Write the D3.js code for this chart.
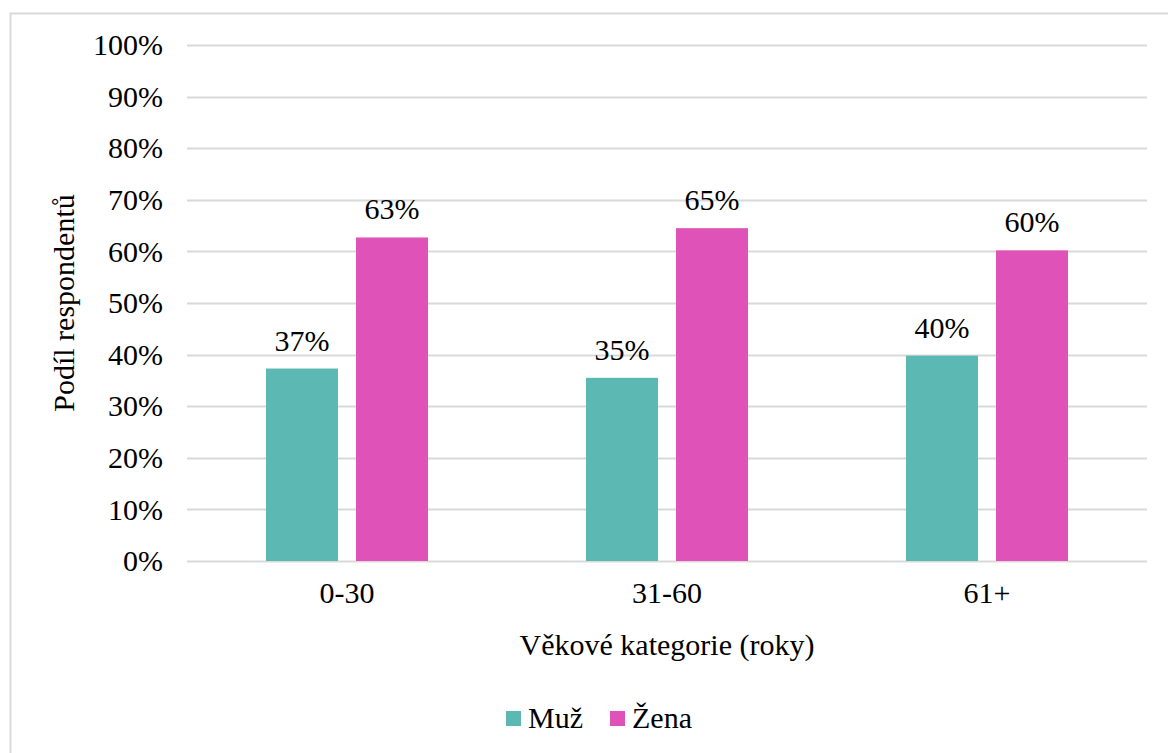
<!DOCTYPE html>
<html><head><meta charset="utf-8">
<script src="https://cdn.jsdelivr.net/npm/d3@7"></script>
<style>html,body{margin:0;padding:0;background:#fff;}svg{display:block;}</style>
</head><body>
<svg id="chart" width="1168" height="753"></svg>
<script>
const categories = ["0-30", "31-60", "61+"];
const seriesNames = ["Muž", "Žena"];
const muz = [37.3, 35.5, 39.8];
const zena = [62.7, 64.5, 60.2];
const muzLabels = ["37%", "35%", "40%"];
const zenaLabels = ["63%", "65%", "60%"];
const yTicks = [0,10,20,30,40,50,60,70,80,90,100];
const colors = ["#5cb8b2", "#df52b8"];
const fontNames = ["Liberation Serif", "Times New Roman"];

(function(){
const svg = d3.select("#chart");
const fs = 30;
const ff = fontNames.map(n => `"${n}"`).join(", ");

// frame
svg.append("rect").attr("x",10.5).attr("y",13.5).attr("width",1170).attr("height",760)
  .attr("fill","#fff").attr("stroke","#d9d9d9").attr("stroke-width",2);

const pL = 187, pR = 1147, pT = 45, pB = 561;
const x = d3.scaleBand().domain(categories).range([pL,pR]).paddingInner(0).paddingOuter(0);
const x1 = d3.scaleBand().domain(seriesNames).range([0, x.bandwidth()]).paddingInner(0.2).paddingOuter(0.878);
const y = d3.scaleLinear().domain([0,100]).range([pB, pT]);

// grid
svg.append("g").selectAll("line").data(yTicks).join("line")
  .attr("x1",pL).attr("x2",pR)
  .attr("y1",d=>Math.round(y(d))+0.5).attr("y2",d=>Math.round(y(d))+0.5)
  .attr("stroke","#d9d9d9").attr("stroke-width",2);

// y axis labels
const yAxis = d3.axisLeft(y).tickValues(yTicks).tickFormat(d=>d+"%").tickSize(0).tickPadding(24);
const ga = svg.append("g").attr("transform",`translate(${pL},0)`).call(yAxis);
ga.select(".domain").remove();
ga.attr("font-family",null).attr("font-size",null);
ga.selectAll("text").style("font-family",ff).style("font-size",fs+"px").attr("fill","#000").attr("dy","0.32em");

// x axis labels
const xAxis = d3.axisBottom(x).tickSize(0).tickPadding(21);
const gx = svg.append("g").attr("transform",`translate(0,${pB})`).call(xAxis);
gx.select(".domain").remove();
gx.attr("font-family",null).attr("font-size",null);
gx.selectAll("text").style("font-family",ff).style("font-size",fs+"px").attr("fill","#000");

const data = categories.map((c,i)=>({c, vals:[{s:"Muž",v:muz[i],l:muzLabels[i]},{s:"Žena",v:zena[i],l:zenaLabels[i]}]}));
const groups = svg.append("g").selectAll("g").data(data).join("g")
  .attr("transform",d=>`translate(${x(d.c)},0)`);
groups.selectAll("rect").data(d=>d.vals).join("rect")
  .attr("x",d=>x1(d.s)).attr("width",x1.bandwidth())
  .attr("y",d=>y(d.v)).attr("height",d=>pB-y(d.v))
  .attr("fill",(d,i)=>colors[i]);
groups.selectAll("text").data(d=>d.vals).join("text")
  .attr("x",d=>x1(d.s)+x1.bandwidth()/2).attr("y",d=>y(d.v)-18)
  .attr("text-anchor","middle").style("font-family",ff).style("font-size",fs+"px").attr("fill","#000")
  .text(d=>d.l);

// axis titles
svg.append("text").attr("x",(pL+pR)/2).attr("y",655).attr("text-anchor","middle")
  .style("font-family",ff).style("font-size",fs+"px").text("Věkové kategorie (roky)");
svg.append("text").attr("transform",`translate(74,${(pT+pB)/2}) rotate(-90)`).attr("text-anchor","middle")
  .style("font-family",ff).style("font-size",fs+"px").text("Podíl respondentů");

// legend
const legX = [506, 610];
const lg = svg.append("g").selectAll("g").data(seriesNames).join("g")
  .attr("transform",(d,i)=>`translate(${legX[i]},711)`);
lg.append("rect").attr("width",15).attr("height",15).attr("fill",(d,i)=>colors[i]);
lg.append("text").attr("x",22).attr("y",17).style("font-family",ff).style("font-size",fs+"px").text(d=>d);
})();
</script>
</body></html>
